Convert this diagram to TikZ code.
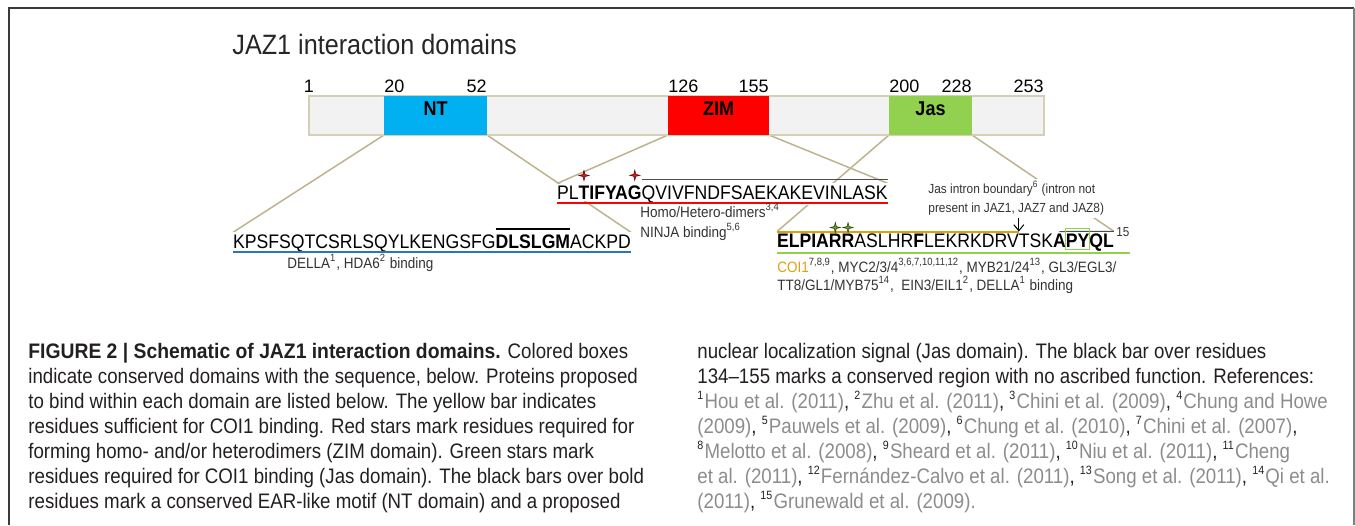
\documentclass[tikz,border=0pt]{standalone}
\usepackage{fontspec}
\setmainfont{Liberation Sans}
\newfontfamily\seqfont[FakeStretch=0.9]{Liberation Sans}
\newfontfamily\capfont[FakeStretch=0.89]{Liberation Sans}
\newfontfamily\capboldfont[FakeStretch=0.92]{Liberation Sans}
\usetikzlibrary{calc,fit,backgrounds,arrows.meta}

\definecolor{bargray}{HTML}{F2F2F2}
\definecolor{bartan}{HTML}{D5CFB4}
\definecolor{linktan}{HTML}{BDB38F}
\definecolor{ntblue}{HTML}{00B0F0}
\definecolor{zimred}{HTML}{FF0000}
\definecolor{jasgreen}{HTML}{92D050}
\definecolor{ulblue}{HTML}{2E75B6}
\definecolor{coigold}{HTML}{DDA10E}
\definecolor{labelgray}{HTML}{333333}
\definecolor{captext}{HTML}{231F20}
\definecolor{refgray}{HTML}{8C8C8C}
\definecolor{starred}{HTML}{E31B1B}
\definecolor{stardark}{HTML}{5A0A0A}
\definecolor{stargreen}{HTML}{6E9A30}
\definecolor{stardkgreen}{HTML}{2F4A14}
\definecolor{framegray}{HTML}{3A3A3A}

\newcommand\refnum[1]{\textcolor{captext}{\raisebox{0.75ex}{\fontsize{6}{6}\selectfont #1}}\kern0.6pt}
\newcommand\refsep{\textcolor{captext}{,}}

\tikzset{
  seq/.style={font=\seqfont\fontsize{9.8}{11}\selectfont, inner xsep=0pt, inner ysep=1pt,
    outer sep=0pt, fill=white, anchor=base west},
  bseq/.style={seq, font=\seqfont\bfseries\fontsize{9.8}{11}\selectfont},
  lbl/.style={font=\seqfont\fontsize{7.5}{9}\selectfont, text=labelgray, anchor=base west, inner sep=0pt},
  num/.style={font=\fontsize{9}{10}\selectfont, inner sep=0pt},
  protbar/.style={draw=bartan, line width=1pt, fill=bargray, inner sep=0pt, outer sep=0pt},
  domainbox/.style={inner sep=0pt, outer sep=0pt, font=\seqfont\bfseries\fontsize{10}{12}\selectfont},
  link/.style={draw=linktan, line width=0.75pt},
  spark/.pic={\path[pic actions] (0,-5) -- (1,-1) -- (5,0) -- (1,1) -- (0,5) -- (-1,1) -- (-5,0) -- (-1,-1) -- cycle;},
  redstar/.style={fill=starred, draw=stardark, line width=0.3pt},
  greenstar/.style={fill=stargreen, draw=stardkgreen, line width=0.3pt},
  capline/.style={font=\capfont\fontsize{10.5}{12.5}\selectfont, text=captext, anchor=base west, inner sep=0pt}
}

\begin{document}
\begin{tikzpicture}[x=0.5pt,y=-0.5pt]
    \useasboundingbox (0,0) rectangle (1355,525);
    \draw[framegray, line width=0.75pt] (9,525) -- (9,8) -- (1354,8);
    \draw[gray, line width=0.75pt] (1354,8) -- (1354,525);

    \node[anchor=base west, font=\seqfont\fontsize{14}{16}\selectfont, text=black!85, inner sep=0pt] (title) at (232,54) {JAZ1 interaction domains};

    % protein bar and domains
    \node[protbar, fit={(309,96) (1044,135)}] (bar) {};
    \node[domainbox, fill=ntblue, fit={(384,96) (487,135)}] (nt) {NT};
    \node[domainbox, fill=zimred, fit={(668,96) (769,135)}] (zim) {ZIM};
    \node[domainbox, fill=jasgreen, fit={(889,96) (972,135)}] (jas) {Jas};

    \node[num, anchor=base] (p1) at ($(bar.north west)+(0,-4)$) {1};
    \node[num, anchor=base west] (p20) at ($(nt.north west)+(0,-4)$) {20};
    \node[num, anchor=base east] (p52) at ($(nt.north east)+(0,-4)$) {52};
    \node[num, anchor=base west] (p126) at ($(zim.north west)+(0,-4)$) {126};
    \node[num, anchor=base east] (p155) at ($(zim.north east)+(0,-4)$) {155};
    \node[num, anchor=base west] (p200) at ($(jas.north west)+(0,-4)$) {200};
    \node[num, anchor=base east] (p228) at ($(jas.north east)+(0,-4)$) {228};
    \node[num, anchor=base east] (p253) at ($(bar.north east)+(0,-4)$) {253};

    % NT sequence
    \node[seq] (nt1) at (233,248) {KPSFSQTCSRLSQYLKENGSFG};
    \node[bseq] (nt2) at (nt1.base east) {DLSLGM};
    \node[seq] (nt3) at (nt2.base east) {ACKPD};
    \draw[ulblue, line width=1pt] ([yshift=-2pt]nt1.base west) -- ([yshift=-2pt]nt3.base east);
    \draw[line width=0.9pt] ([yshift=1.5pt]nt2.north west) -- ([yshift=1.5pt]nt2.north east);
    \node[lbl] (della) at (287,268) {DELLA\textsuperscript{1}, HDA6\textsuperscript{2} binding};

    % ZIM sequence
    \node[seq] (zm1) at (557,199) {PL};
    \node[bseq] (zm2a) at (zm1.base east) {T};
    \node[bseq] (zm2b) at (zm2a.base east) {IFYA};
    \node[bseq] (zm2c) at (zm2b.base east) {G};
    \node[seq] (zm3) at (zm2c.base east) {QVIVFNDFSAEKAKEVINLASK};
    \draw[zimred, line width=1pt] ([yshift=-2pt]zm1.base west) -- ([yshift=-2pt]zm3.base east);
    \draw[black!70, line width=0.5pt] ([yshift=2pt]zm3.north west) -- ([yshift=2pt]zm3.north east);
    \pic[redstar] at ([yshift=4pt]zm2a.north) {spark};
    \pic[redstar] at ([yshift=4pt]zm2c.north) {spark};
    \node[lbl] (dimer) at (640,217) {Homo/Hetero-dimers\textsuperscript{3,4}};
    \node[lbl] (ninja) at (640,237) {NINJA binding\textsuperscript{5,6}};

    % Jas sequence
    \node[bseq] (ja) at (777,247) {ELPIA};
    \node[bseq] (jb) at (ja.base east) {R};
    \node[bseq] (jc) at (jb.base east) {R};
    \node[seq] (jd) at (jc.base east) {ASLHR};
    \node[bseq] (je) at (jd.base east) {F};
    \node[seq] (jf) at (je.base east) {LEKRKDRV};
    \node[seq] (jg) at (jf.base east) {TSK};
    \node[bseq] (jh) at (jg.base east) {A};
    \node[bseq] (ji) at (jh.base east) {PY};
    \node[bseq] (jj) at (ji.base east) {QL};
    \node[lbl, font=\seqfont\fontsize{6.5}{8}\selectfont, text=black!80] (ref15) at ($(jj.base east)+(2,-11)$) {15};
    \draw[coigold, line width=1pt] (ja.north west) -- (jf.north east);
    \draw[black!70, line width=0.5pt] (jh.north) -- (jj.north east);
    \draw[jasgreen, line width=0.5pt] ([yshift=1.5pt]ji.north west) rectangle (ji.south east);
    \draw[jasgreen, line width=1pt] ([yshift=-3pt]ja.base west) -- ([yshift=-3pt]ja.base west -| ref15.east);
    \pic[greenstar] at ([yshift=2pt]jb.north) {spark};
    \pic[greenstar] at ([yshift=2pt]jc.north) {spark};
    \node[lbl] (coi) at (777,272) {\textcolor{coigold}{COI1}\textsuperscript{7,8,9}, MYC2/3/4\textsuperscript{3,6,7,10,11,12}, MYB21/24\textsuperscript{13}, GL3/EGL3/};
    \node[lbl] (tt8) at (777,290) {TT8/GL1/MYB75\textsuperscript{14},\ \ EIN3/EIL1\textsuperscript{2}, DELLA\textsuperscript{1} binding};

    \node[lbl, font=\seqfont\fontsize{6.6}{9.5}\selectfont, align=left, anchor=north west, fill=white, inner sep=1pt] (intron) at (926,179)
        {Jas intron boundary\textsuperscript{6} (intron not\\present in JAZ1, JAZ7 and JAZ8)};
    \draw[-{Straight Barb[length=3pt,width=5pt]}, line width=0.5pt] (intron.south -| jf.north east) -- (jf.north east);

    % domain to sequence connectors
    \begin{scope}[on background layer]
    \draw[link] (nt.south west) -- (nt1.north west);
    \draw[link] (nt.south east) -- (nt3.north east);
    \draw[link] (zim.south west) -- (zm1.north west);
    \draw[link] (zim.south east) -- (zm3.north east);
    \draw[link] (jas.south west) -- (ja.north west);
    \draw[link] (jas.south east) -- (jj.north east);
    \end{scope}

    % caption
    \node[capline] (cl1) at (28,358) {{\capboldfont\bfseries FIGURE 2 | Schematic of JAZ1 interaction domains.} Colored boxes};
    \node[capline] (cl2) at (28,383) {indicate conserved domains with the sequence, below. Proteins proposed};
    \node[capline] (cl3) at (28,408) {to bind within each domain are listed below. The yellow bar indicates};
    \node[capline] (cl4) at (28,433) {residues sufficient for COI1 binding. Red stars mark residues required for};
    \node[capline] (cl5) at (28,458) {forming homo- and/or heterodimers (ZIM domain). Green stars mark};
    \node[capline] (cl6) at (28,483) {residues required for COI1 binding (Jas domain). The black bars over bold};
    \node[capline] (cl7) at (28,508) {residues mark a conserved EAR-like motif (NT domain) and a proposed};

    \node[capline] (cr1) at (697,358) {nuclear localization signal (Jas domain). The black bar over residues};
    \node[capline] (cr2) at (697,383) {134–155 marks a conserved region with no ascribed function. References:};
    \node[capline, text=refgray] (cr3) at (697,408) {\refnum{1}Hou et al. (2011)\refsep{} \refnum{2}Zhu et al. (2011)\refsep{} \refnum{3}Chini et al. (2009)\refsep{} \refnum{4}Chung and Howe};
    \node[capline, text=refgray] (cr4) at (697,433) {(2009)\refsep{} \refnum{5}Pauwels et al. (2009)\refsep{} \refnum{6}Chung et al. (2010)\refsep{} \refnum{7}Chini et al. (2007)\refsep};
    \node[capline, text=refgray] (cr5) at (697,458) {\refnum{8}Melotto et al. (2008)\refsep{} \refnum{9}Sheard et al. (2011)\refsep{} \refnum{10}Niu et al. (2011)\refsep{} \refnum{11}Cheng};
    \node[capline, text=refgray] (cr6) at (697,483) {et al. (2011)\refsep{} \refnum{12}Fernández-Calvo et al. (2011)\refsep{} \refnum{13}Song et al. (2011)\refsep{} \refnum{14}Qi et al.};
    \node[capline, text=refgray] (cr7) at (697,508) {(2011)\refsep{} \refnum{15}Grunewald et al. (2009).};
\end{tikzpicture}
\end{document}
